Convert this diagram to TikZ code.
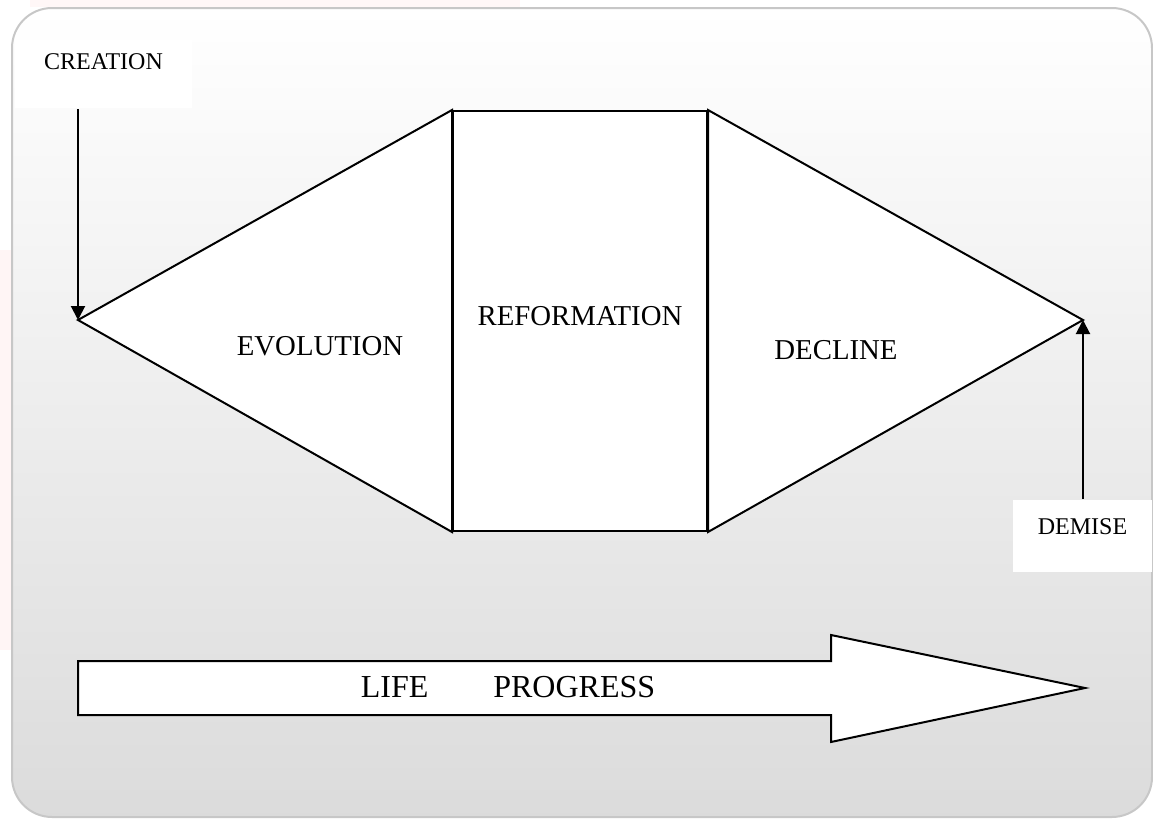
\documentclass[tikz,border=0pt]{standalone}
\usepackage{fontspec}
\setmainfont{Liberation Serif}
\usetikzlibrary{arrows.meta, positioning}

\begin{document}
\begin{tikzpicture}[x=0.5pt,y=-0.5pt,line width=1pt,>={Triangle[length=7pt,width=7pt]},
      phase/.style={font=\fontsize{14.4}{17}\selectfont},
      tag/.style={fill=white,inner sep=0pt,font=\fontsize{12}{14}\selectfont}]
      \useasboundingbox (0,0) rectangle (1153,819);
      % faint marks outside the panel
      \fill[red!3] (30,0) rectangle (520,7);
      \fill[red!4] (0,250) rectangle (11,650);
      \path[draw=black!22, top color=white, bottom color=black!14, rounded corners=20pt]
      (12,8) rectangle (1152,817);
      \coordinate (lt) at (78,320);
      \coordinate (rt) at (1083,320);
      \node[tag, minimum width=88.5pt, minimum height=34pt, text depth=12pt] (creation) at (103.5,74) {CREATION};
      \node[tag, minimum width=69.5pt, minimum height=36pt, text depth=9.4pt] (demise) at (1082.5,536) {DEMISE};
      \node[draw, fill=white, phase, minimum width=127pt, minimum height=210pt, text depth=5pt] (reform) at (580,321) {REFORMATION};
      \draw[fill=white, line join=miter] (lt) -- (reform.north west) -- (reform.south west) -- cycle;
      \draw[fill=white, line join=miter] (rt) -- (reform.north east) -- (reform.south east) -- cycle;
      \node[phase] (evolution) at (320,346) {EVOLUTION};
      \node[phase] (decline) at (836,350) {DECLINE};
      \draw[->] (creation.south -| lt) -- (lt);
      \draw[->] (demise.north -| rt) -- (rt);
      % life progress arrow
      \draw[fill=white, line join=miter] (78,661) -- (831,661) -- (831,635) -- (1085,688)
      -- (831,742) -- (831,715) -- (78,715) -- cycle;
      \node[font=\fontsize{16}{19}\selectfont] (progress) at (508,687) {LIFE\hspace{32.5pt}PROGRESS};
    \end{tikzpicture}
\end{document}
